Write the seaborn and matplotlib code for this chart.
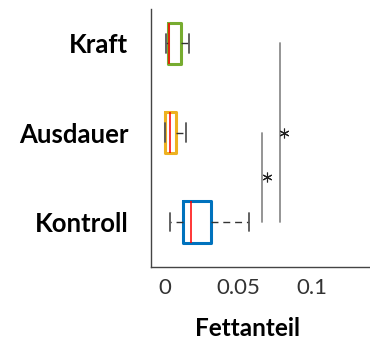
import matplotlib
matplotlib.use("Agg")
import matplotlib.pyplot as plt
import seaborn as sns
import pandas as pd

# Five-number summaries (min, Q1, median, Q3, max) of the fat fraction per group
groups = ["Kraft", "Ausdauer", "Kontroll"]
kraft = [0.0005, 0.0016, 0.0028, 0.0106, 0.0163]
ausdauer = [0.0, 0.0, 0.0034, 0.0075, 0.0142]
kontroll = [0.0034, 0.0122, 0.0176, 0.0312, 0.0575]
box_colors = ["#77AC30", "#EDB120", "#0072BD"]

# Significance brackets: x position, group span, star position
sig_x = [0.0661, 0.0784]
sig_from = ["Ausdauer", "Kraft"]
sig_to = ["Kontroll", "Kontroll"]
star_x = [0.0695, 0.0811]

xticks = [0, 0.05, 0.1]
xtick_labels = ["0", "0.05", "0.1"]

df = pd.DataFrame({
    "Gruppe": ["Kraft"] * len(kraft) + ["Ausdauer"] * len(ausdauer) + ["Kontroll"] * len(kontroll),
    "Fettanteil": kraft + ausdauer + kontroll,
})

sns.set_theme(style="white")
plt.rcParams["font.family"] = ["Lato", "DejaVu Sans"]

fig = plt.figure(figsize=(3.70, 3.39), dpi=100)
ax = fig.add_axes([0.407, 0.213, 0.593, 0.76])

sns.boxplot(
    data=df, x="Fettanteil", y="Gruppe", hue="Gruppe", order=groups,
    hue_order=groups, palette=box_colors, fill=False, width=0.46,
    linewidth=2.0, showfliers=False, legend=False, ax=ax, capwidths=0.21,
)

pos = {g: i for i, g in enumerate(groups)}
for cont, col in zip(ax.containers, box_colors):
    for b in cont.boxes:
        b.set_color(col)
        b.set_linewidth(2.2)
    for m in cont.medians:
        m.set_color("red")
        m.set_linewidth(1.1)
    for w in cont.whiskers:
        w.set_color("#333333")
        w.set_linewidth(1.0)
        w.set_linestyle((0, (5, 3.5)))
    for c in cont.caps:
        c.set_color("#555555")
        c.set_linewidth(1.3)

for x, a, b, sx in zip(sig_x, sig_from, sig_to, star_x):
    ax.plot([x, x], [pos[a], pos[b]], color="#8C8C8C", lw=1.3)
    ax.plot([sx], [(pos[a] + pos[b]) / 2], marker=(6, 2, 0), ms=7,
            color="#222222", mew=0.8, ls="none")

ax.set_xlim(-0.01, 0.14)
ax.set_ylim(2.5, -0.38)
ax.set_xticks(xticks)
ax.set_xticklabels(xtick_labels, fontsize=16, color="#333333")
ax.set_yticks(range(len(groups)))
ax.set_yticklabels(groups, fontsize=18.5, fontweight="bold", color="black")
ax.set_ylabel("")
ax.set_xlabel("Fettanteil", fontsize=17.5, fontweight="bold", color="black")
ax.xaxis.set_label_coords(0.44, -0.196)
ax.tick_params(axis="both", direction="in", length=3, width=0.8, colors="#555555")
ax.tick_params(axis="x", labelcolor="#333333", pad=8)
ax.tick_params(axis="y", labelcolor="black", pad=16)

for s in ["top", "right"]:
    ax.spines[s].set_visible(False)
for s in ["left", "bottom"]:
    ax.spines[s].set_color("#444444")
    ax.spines[s].set_linewidth(1.0)

fig.savefig("out.png", dpi=100)
